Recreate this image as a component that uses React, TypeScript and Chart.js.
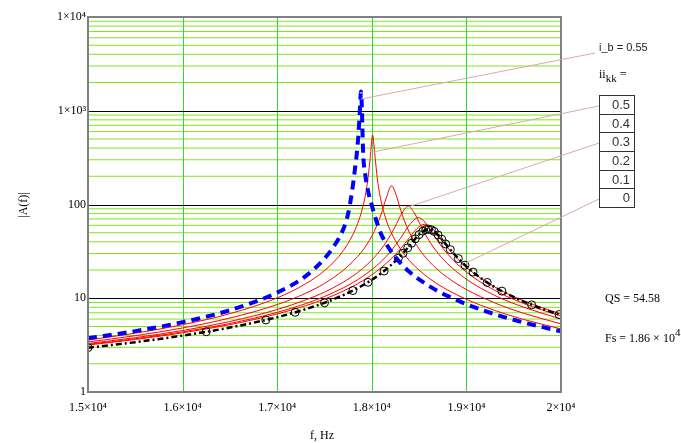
import React, { useEffect, useRef } from 'react';
import { Chart, registerables } from 'chart.js';

Chart.register(...registerables);

// ---------- axis ticks ----------
const xTickVals = [15000, 16000, 17000, 18000, 19000, 20000];
const xTickLabels = ['1.5×10⁴', '1.6×10⁴', '1.7×10⁴', '1.8×10⁴', '1.9×10⁴', '2×10⁴'];
const yDecades = [1, 10, 100, 1000, 10000];
const yDecadeLabels = ['1', '10', '100', '1×10³', '1×10⁴'];
const yMinorVals = [
  2, 3, 4, 5, 6, 7, 8, 9,
  20, 30, 40, 50, 60, 70, 80, 90,
  200, 300, 400, 500, 600, 700, 800, 900,
  2000, 3000, 4000, 5000, 6000, 7000, 8000, 9000,
];

// ---------- series: i_b = 0.55 (blue dashed) ----------
const blueF = [15000, 15500, 16000, 16500, 17000, 17300, 17500, 17600, 17700, 17750, 17790, 17820, 17850, 17870, 17886, 17910, 17930, 17960, 18000, 18050, 18100, 18200, 18300, 18400, 18500, 18600, 18700, 18800, 19000, 19300, 19600, 20000];
const blueA = [3.74, 4.46, 5.56, 7.45, 11.49, 17.2, 26.5, 36, 55, 80, 135, 230, 430, 850, 1600, 330, 210, 140, 98, 66, 48, 32, 24, 19.0, 15.9, 13.6, 11.9, 10.6, 8.64, 6.75, 5.53, 4.43];

// ---------- series: ii = 0.5 ----------
const red1F = [15000, 15500, 16000, 16500, 17000, 17300, 17500, 17600, 17700, 17800, 17850, 17900, 17950, 17980, 18009, 18030, 18060, 18100, 18150, 18200, 18300, 18400, 18500, 18600, 18700, 18800, 19000, 19300, 19600, 20000];
const red1A = [3.59, 4.24, 5.22, 6.85, 10.1, 14.25, 19.7, 24.5, 32.3, 47.7, 62.6, 89.9, 161, 290, 550, 358, 183, 106.5, 69.4, 51.6, 33.8, 25.1, 19.9, 16.5, 14.06, 12.25, 9.73, 7.41, 5.96, 4.71];

// ---------- series: ii = 0.4 ----------
const red2F = [15000, 15500, 16000, 16500, 17000, 17300, 17500, 17700, 17800, 17900, 18000, 18050, 18100, 18150, 18210, 18260, 18300, 18350, 18400, 18500, 18600, 18700, 18800, 19000, 19300, 19600, 20000];
const red2A = [3.42, 3.99, 4.82, 6.15, 8.56, 11.29, 14.39, 19.92, 24.7, 31.9, 46.0, 58.5, 79.2, 115.2, 158.5, 123.9, 90.8, 64.9, 49.7, 33.5, 25.1, 20.0, 16.6, 12.39, 8.92, 6.94, 5.33];

// ---------- series: ii = 0.3 ----------
const red3F = [15000, 15500, 16000, 16500, 17000, 17300, 17500, 17700, 17800, 17900, 18000, 18100, 18200, 18250, 18300, 18386, 18450, 18500, 18600, 18700, 18800, 19000, 19300, 19600, 20000];
const red3A = [3.29, 3.80, 4.53, 5.65, 7.58, 9.59, 11.62, 14.85, 17.27, 20.6, 25.6, 33.5, 47.6, 59.0, 74.5, 95.7, 81.3, 64.6, 42.0, 30.2, 23.4, 15.96, 10.72, 8.06, 6.0];

// ---------- series: ii = 0.2 ----------
const red4F = [15000, 15500, 16000, 16500, 17000, 17300, 17500, 17700, 17800, 17900, 18000, 18100, 18200, 18300, 18400, 18492, 18550, 18600, 18700, 18800, 19000, 19300, 19600, 20000];
const red4A = [3.22, 3.70, 4.38, 5.38, 7.07, 8.76, 10.44, 12.93, 14.69, 17.0, 20.2, 24.7, 31.7, 43.1, 60.9, 72.6, 66.9, 57.2, 40.3, 29.8, 19.0, 12.13, 8.84, 6.45];

// ---------- series: ii = 0.1 ----------
const red5F = [15000, 15500, 16000, 16500, 17000, 17300, 17500, 17700, 17800, 17900, 18000, 18100, 18200, 18300, 18400, 18480, 18560, 18620, 18700, 18800, 19000, 19300, 19600, 20000];
const red5A = [3.17, 3.63, 4.28, 5.23, 6.80, 8.32, 9.80, 11.94, 13.41, 15.29, 17.77, 21.2, 26.1, 33.4, 44.6, 55.7, 61.6, 57.7, 46.8, 34.7, 21.4, 13.19, 9.43, 6.78];

// ---------- series: ii = 0 (black dash-dot) ----------
const blackF = [15000, 15500, 16000, 16500, 17000, 17300, 17500, 17700, 17800, 17900, 18000, 18100, 18200, 18300, 18400, 18500, 18600, 18700, 18800, 18900, 19000, 19150, 19300, 19450, 19600, 19800, 20000];
const blackA = [2.97, 3.40, 4.00, 4.87, 6.28, 7.64, 8.95, 10.82, 12.08, 13.67, 15.73, 18.51, 22.4, 28.0, 36.5, 47.8, 54.58, 47.3, 35.9, 27.5, 21.8, 16.47, 13.13, 10.89, 9.28, 7.73, 6.61];

// ---------- circle markers ----------
const circF = [15000, 16250, 16880, 17190, 17500, 17800, 17960, 18130, 18280, 18330, 18380, 18420, 18460, 18500, 18540, 18570, 18600, 18630, 18660, 18700, 18740, 18780, 18830, 18915, 18985, 19070, 19220, 19375, 19690, 19980];
const circA = [2.97, 4.39, 5.87, 7.08, 8.95, 12.08, 14.8, 19.5, 26.7, 30.2, 34.5, 38.6, 43.1, 47.8, 51.9, 53.9, 54.58, 53.7, 51.6, 47.3, 42.6, 38.0, 33.0, 26.5, 22.5, 19.0, 14.74, 11.91, 8.50, 6.70];

// ---------- pointer anchors (on curves) ----------
const pointerF = [17886, 18013, 18383, 18996];
const pointerA = [1334, 363, 94, 23.8];

// ---------- annotation text ----------
const iiValues = ['0.5', '0.4', '0.3', '0.2', '0.1', '0'];
const ibText = 'i_b = 0.55';
const qsText = 'QS = 54.58';
const fsText = 'Fs = 1.86 × 10';

const pts = (f: number[], a: number[]) => f.map((v, i) => ({ x: v, y: a[i] }));

export default function App() {
  const ref = useRef<HTMLCanvasElement>(null);

  useEffect(() => {
    const canvas = ref.current;
    if (!canvas) return;
    const serif = "'Liberation Serif', 'Times New Roman', serif";
    const pointerEnds = [
      [595, 53],
      [599, 106],
      [599, 143],
      [599, 199],
    ];

    const gridPlugin = {
      id: 'customGrid',
      beforeDatasetsDraw(chart: any) {
        const { ctx, chartArea: a, scales } = chart;
        ctx.save();
        ctx.lineWidth = 1;
        // minor horizontal lines
        ctx.strokeStyle = '#80e619';
        yMinorVals.forEach((v) => {
          const py = scales.y.getPixelForValue(v);
          ctx.beginPath();
          ctx.moveTo(a.left, py);
          ctx.lineTo(a.right, py);
          ctx.stroke();
        });
        // vertical lines
        ctx.strokeStyle = '#33d633';
        xTickVals.forEach((v) => {
          const px = Math.round(scales.x.getPixelForValue(v)) + 0.5;
          ctx.beginPath();
          ctx.moveTo(px, a.top);
          ctx.lineTo(px, a.bottom);
          ctx.stroke();
        });
        // decade lines
        ctx.strokeStyle = '#000000';
        yDecades.forEach((v) => {
          const py = Math.round(scales.y.getPixelForValue(v)) + 0.5;
          ctx.beginPath();
          ctx.moveTo(a.left, py);
          ctx.lineTo(a.right, py);
          ctx.stroke();
        });
        ctx.restore();
      },
      afterDatasetsDraw(chart: any) {
        const { ctx, chartArea: a, scales } = chart;
        ctx.save();
        ctx.strokeStyle = '#808080';
        ctx.lineWidth = 2;
        ctx.strokeRect(a.left, a.top, a.right - a.left, a.bottom - a.top);
        ctx.strokeStyle = '#d9a9a9';
        ctx.lineWidth = 1;
        pointerF.forEach((f, i) => {
          const px = scales.x.getPixelForValue(f);
          const py = scales.y.getPixelForValue(pointerA[i]);
          ctx.beginPath();
          ctx.moveTo(px, py);
          ctx.lineTo(pointerEnds[i][0], pointerEnds[i][1]);
          ctx.stroke();
        });
        ctx.restore();
      },
    };

    const redBase = {
      borderColor: '#ff0000',
      borderWidth: 1,
      pointRadius: 0,
      fill: false,
      cubicInterpolationMode: 'monotone' as const,
    };

    const chart = new Chart(canvas, {
      type: 'line',
      data: {
        datasets: [
          {
            data: pts(blueF, blueA),
            borderColor: '#0000ff',
            borderWidth: 4,
            borderDash: [9, 6],
            pointRadius: 0,
            fill: false,
            cubicInterpolationMode: 'monotone',
          },
          {
            data: pts(blackF, blackA),
            borderColor: '#000000',
            borderWidth: 2.5,
            borderDash: [6, 3, 2, 3],
            pointRadius: 0,
            fill: false,
            cubicInterpolationMode: 'monotone',
          },
          {
            data: pts(circF, circA),
            showLine: false,
            pointRadius: 4,
            pointStyle: 'circle',
            pointBorderColor: '#000000',
            pointBackgroundColor: 'rgba(0,0,0,0)',
            pointBorderWidth: 1,
            clip: 0,
          },
          { ...redBase, data: pts(red5F, red5A) },
          { ...redBase, data: pts(red4F, red4A) },
          { ...redBase, data: pts(red3F, red3A) },
          { ...redBase, data: pts(red2F, red2A) },
          { ...redBase, data: pts(red1F, red1A) },
        ] as any,
      },
      options: {
        animation: false,
        responsive: false,
        events: [],
        layout: { padding: { top: 17, right: 120, left: 0, bottom: 0 } },
        plugins: { legend: { display: false }, tooltip: { enabled: false } },
        scales: {
          x: {
            type: 'linear',
            min: 15000,
            max: 20000,
            afterBuildTicks: (s: any) => {
              s.ticks = xTickVals.map((v) => ({ value: v }));
            },
            afterFit: (s: any) => {
              s.height = 51;
            },
            ticks: {
              autoSkip: false,
              maxRotation: 0,
              padding: 9,
              color: '#000',
              font: { family: serif, size: 12 },
              callback: (v: any) => {
                const i = xTickVals.indexOf(Number(v));
                return i >= 0 ? xTickLabels[i] : '';
              },
            },
            grid: { display: false, drawTicks: false },
            border: { display: false },
          },
          y: {
            type: 'logarithmic',
            min: 1,
            max: 10000,
            afterBuildTicks: (s: any) => {
              s.ticks = yDecades.map((v) => ({ value: v }));
            },
            afterFit: (s: any) => {
              s.width = 88;
            },
            ticks: {
              autoSkip: false,
              padding: 2,
              color: '#000',
              font: { family: serif, size: 12 },
              callback: (v: any) => {
                const i = yDecades.indexOf(Number(v));
                return i >= 0 ? yDecadeLabels[i] : '';
              },
            },
            grid: { display: false, drawTicks: false },
            border: { display: false },
          },
        },
      } as any,
      plugins: [gridPlugin],
    });
    return () => chart.destroy();
  }, []);

  const serifCss = "'Liberation Serif', 'Times New Roman', serif";
  const sansCss = "'Liberation Sans', Arial, sans-serif";

  return (
    <div
      style={{
        position: 'fixed',
        left: 0,
        top: 0,
        width: 681,
        height: 443,
        background: '#fff',
        overflow: 'hidden',
        color: '#000',
      }}
    >
      <canvas ref={ref} width={681} height={443} style={{ position: 'absolute', left: 0, top: 0 }} />
      <div
        style={{
          position: 'absolute',
          left: 3,
          top: 198,
          width: 40,
          height: 14,
          lineHeight: '14px',
          textAlign: 'center',
          transform: 'rotate(-90deg)',
          font: `12px ${serifCss}`,
          whiteSpace: 'nowrap',
          color: '#000',
        }}
      >
        |A(f)|
      </div>
      <div style={{ position: 'absolute', left: 310, top: 428, font: `12px ${serifCss}`, whiteSpace: 'nowrap' }}>
        f, Hz
      </div>
      <div style={{ position: 'absolute', left: 599, top: 41, font: `11px ${sansCss}`, whiteSpace: 'nowrap', color: '#222' }}>
        {ibText}
      </div>
      <div style={{ position: 'absolute', left: 599, top: 67, font: `12px ${serifCss}`, whiteSpace: 'nowrap' }}>
        ii<sub style={{ fontSize: 11, verticalAlign: '-4px' }}>kk</sub> =
      </div>
      <div style={{ position: 'absolute', left: 599, top: 95, width: 36 }}>
        {iiValues.map((v, i) => (
          <div
            key={i}
            style={{
              boxSizing: 'border-box',
              height: 19.67,
              marginTop: i === 0 ? 0 : -1,
              border: '1px solid #333',
              textAlign: 'right',
              paddingRight: 4,
              font: `13px ${sansCss}`,
              lineHeight: '17.5px',
              color: '#333',
            }}
          >
            {v}
          </div>
        ))}
      </div>
      <div style={{ position: 'absolute', left: 605, top: 291, font: `12px ${serifCss}`, whiteSpace: 'nowrap' }}>
        {qsText}
      </div>
      <div style={{ position: 'absolute', left: 605, top: 326, font: `12px ${serifCss}`, whiteSpace: 'nowrap' }}>
        {fsText}
        <sup style={{ fontSize: 11, verticalAlign: '6px' }}>4</sup>
      </div>
    </div>
  );
}
